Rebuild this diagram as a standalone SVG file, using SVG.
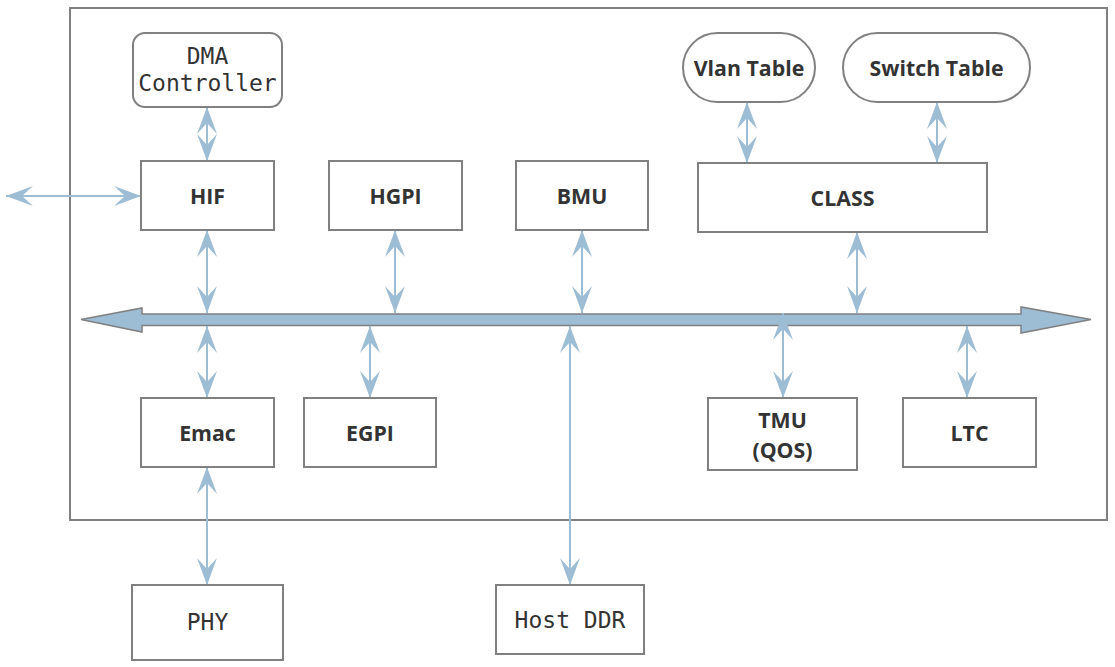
<svg xmlns="http://www.w3.org/2000/svg" width="1115" height="667" viewBox="0 0 1115 667">
<style>
.box{fill:#fff;stroke:#808080;stroke-width:2}
.frame{fill:none;stroke:#808080;stroke-width:2}
.b{font-family:"Open Sans","Noto Sans",sans-serif;font-weight:bold;font-size:21.3px;fill:#333;text-anchor:middle}
.m{font-family:"DejaVu Sans Mono","Liberation Mono",monospace;font-size:23px;fill:#333;text-anchor:middle}
.c{stroke:#9dbdd5;stroke-width:2;fill:none;marker-start:url(#ah);marker-end:url(#ah)}
</style>
<defs>
<marker id="ah" markerUnits="userSpaceOnUse" viewBox="-28 -11 29 22" refX="0" refY="0" markerWidth="29" markerHeight="22" orient="auto-start-reverse">
<path d="M0,0 L-27,-10 L-16,0 L-27,10 Z" fill="#9dbdd5"/>
</marker>
</defs>
<rect class="frame" x="70" y="8" width="1037" height="512"/>
<g id="bus">
<path d="M81,319.5 L142,308 L142,314 L1021,314 L1021,307 L1091,319.5 L1021,333 L1021,325.5 L142,325.5 L142,332 Z" fill="#9dbdd5" stroke="#808080" stroke-width="1.5"/>
</g>
<g id="connectors">
<line class="c" x1="6" y1="196" x2="141" y2="196"/>
<line class="c" x1="207" y1="107" x2="207" y2="161"/>
<line class="c" x1="207" y1="230" x2="207" y2="313"/>
<line class="c" x1="395" y1="230" x2="395" y2="313"/>
<line class="c" x1="582" y1="230" x2="582" y2="313"/>
<line class="c" x1="857" y1="232" x2="857" y2="313"/>
<line class="c" x1="747" y1="102" x2="747" y2="163"/>
<line class="c" x1="937" y1="102" x2="937" y2="163"/>
<line class="c" x1="207" y1="326" x2="207" y2="398"/>
<line class="c" x1="370" y1="326" x2="370" y2="398"/>
<line class="c" x1="783" y1="313" x2="783" y2="398"/>
<line class="c" x1="967" y1="326" x2="967" y2="398"/>
<line class="c" x1="570" y1="326" x2="570" y2="585"/>
<line class="c" x1="207" y1="467" x2="207" y2="585"/>
</g>
<g id="dma"><rect class="box" x="133" y="33" width="149" height="74" rx="12"/><text class="m" x="207.5" y="64">DMA</text><text class="m" x="207.5" y="91">Controller</text></g>
<g id="hif"><rect class="box" x="141" y="161" width="133" height="69"/><text class="b" x="207.5" y="204">HIF</text></g>
<g id="hgpi"><rect class="box" x="329" y="161" width="133" height="69"/><text class="b" x="395.5" y="204">HGPI</text></g>
<g id="bmu"><rect class="box" x="516" y="161" width="132" height="69"/><text class="b" x="582" y="204">BMU</text></g>
<g id="class"><rect class="box" x="698" y="163" width="289" height="69"/><text class="b" x="842.5" y="206">CLASS</text></g>
<g id="vlan"><rect class="box" x="683" y="33" width="132" height="69" rx="34.5"/><text class="b" x="749" y="76">Vlan Table</text></g>
<g id="switch"><rect class="box" x="843" y="33" width="187" height="69" rx="34.5"/><text class="b" x="936.5" y="76">Switch Table</text></g>
<g id="emac"><rect class="box" x="141" y="398" width="133" height="69"/><text class="b" x="207.5" y="441">Emac</text></g>
<g id="egpi"><rect class="box" x="304" y="398" width="132" height="69"/><text class="b" x="370" y="441">EGPI</text></g>
<g id="tmu"><rect class="box" x="708" y="398" width="149" height="72"/><text class="b" x="782.5" y="428">TMU</text><text class="b" x="782.5" y="458">(QOS)</text></g>
<g id="ltc"><rect class="box" x="903" y="398" width="133" height="69"/><text class="b" x="969.5" y="441">LTC</text></g>
<g id="phy"><rect class="box" x="132" y="585" width="151" height="75"/><text class="m" x="207.5" y="630">PHY</text></g>
<g id="hostddr"><rect class="box" x="496" y="585" width="148" height="69"/><text class="m" x="570" y="628">Host DDR</text></g>
</svg>
